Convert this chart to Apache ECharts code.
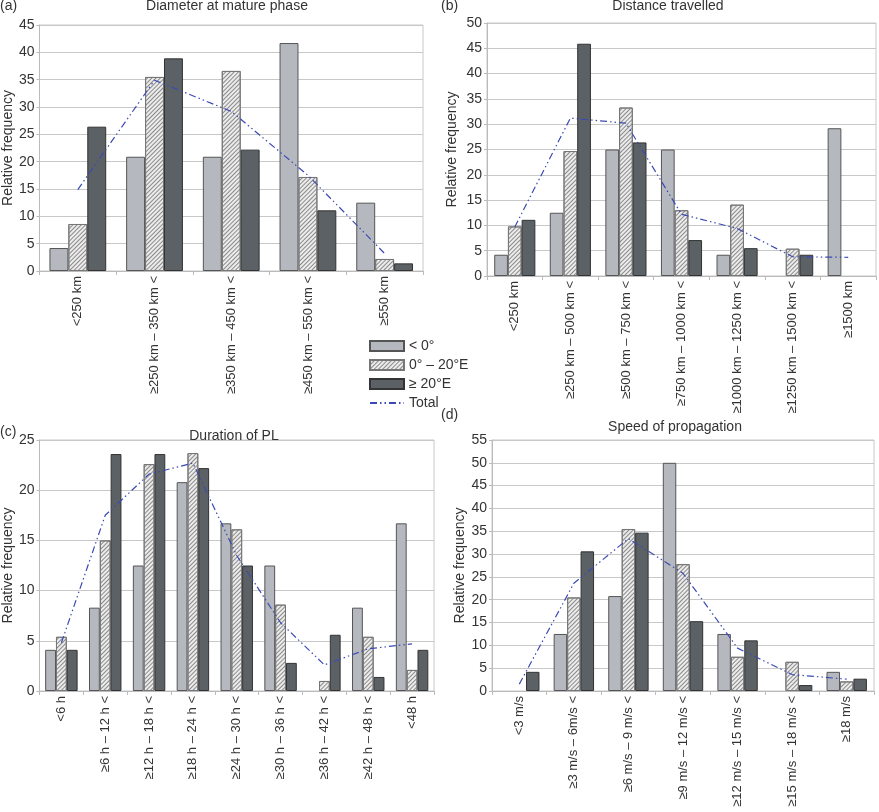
<!DOCTYPE html>
<html>
<head>
<meta charset="utf-8">
<script src="https://cdn.jsdelivr.net/npm/echarts@6/dist/echarts.min.js"></script>
<style>
  html, body { margin: 0; padding: 0; background: #fff; }
  #container { width: 879px; height: 812px; }
</style>
</head>
<body>
<div id="container"></div>
<script>
// (a) Diameter at mature phase
var catsA = ['<250 km', '≥250 km – 350 km <', '≥350 km – 450 km <', '≥450 km – 550 km <', '≥550 km'];
var westA = [4.2, 20.9, 20.9, 41.7, 12.5];
var midA = [8.6, 35.5, 36.6, 17.2, 2.2];
var eastA = [26.4, 38.9, 22.2, 11.1, 1.4];
var totalA = [14.9, 34.9, 29.2, 17.5, 3.2];

// (b) Distance travelled
var catsB = ['<250 km', '≥250 km – 500 km <', '≥500 km – 750 km <', '≥750 km – 1000 km <', '≥1000 km – 1250 km <', '≥1250 km – 1500 km <', '≥1500 km'];
var westB = [4.2, 12.5, 25.0, 25.0, 4.2, null, 29.2];
var midB = [9.8, 24.7, 33.3, 13.0, 14.1, 5.4, null];
var eastB = [11.1, 45.9, 26.4, 7.1, 5.5, 4.2, null];
var totalB = [9.7, 31.2, 30.2, 12.2, 9.4, 3.8, 3.7];

// (c) Duration of PL
var catsC = ['<6 h', '≥6 h – 12 h <', '≥12 h – 18 h <', '≥18 h – 24 h <', '≥24 h – 30 h <', '≥30 h – 36 h <', '≥36 h – 42 h <', '≥42 h – 48 h <', '<48 h'];
var westC = [4.1, 8.3, 12.5, 20.8, 16.7, 12.5, null, 8.3, 16.7];
var midC = [5.4, 15.0, 22.6, 23.7, 16.1, 8.6, 1.0, 5.4, 2.1];
var eastC = [4.1, 23.6, 23.6, 22.2, 12.5, 2.8, 5.6, 1.4, 4.1];
var totalC = [4.8, 17.5, 21.6, 22.7, 13.5, 6.8, 2.6, 4.2, 4.7];

// (d) Speed of propagation
var catsD = ['<3 m/s', '≥3 m/s – 6m/s <', '≥6 m/s – 9 m/s <', '≥9 m/s – 12 m/s <', '≥12 m/s – 15 m/s <', '≥15 m/s – 18 m/s <', '≥18 m/s'];
var westD = [null, 12.5, 20.8, 50.0, 12.5, null, 4.2];
var midD = [null, 20.5, 35.5, 27.8, 7.5, 6.4, 2.1];
var eastD = [4.2, 30.6, 34.7, 15.3, 11.1, 1.3, 2.7];
var totalD = [1.5, 23.6, 33.4, 25.8, 9.4, 3.6, 2.6];

var yMax = [45, 50, 25, 55];
var names = ['< 0°', '0° – 20°E', '≥ 20°E', 'Total'];

var font = 'Liberation Sans, Arial, sans-serif';
var txt = '#333';

var styleWest = { color: '#b5b9bf', borderColor: '#555', borderWidth: 1 };
var styleMid = {
  color: '#ececec', borderColor: '#777', borderWidth: 1,
  decal: { symbol: 'rect', symbolSize: 1, dashArrayX: [[1, 0]], dashArrayY: [1, 2], rotation: -Math.PI / 4, color: '#8a8a8a' }
};
var styleEast = { color: '#5b6164', borderColor: '#333', borderWidth: 1 };

var grids = [
  { left: 39, right: 456, top: 25, bottom: 541 },
  { left: 487, right: 3, top: 23, bottom: 536 },
  { left: 39, right: 445, top: 440, bottom: 121 },
  { left: 492, right: 5, top: 440, bottom: 121 }
];
var nameGaps = [21, 28, 21, 25];
var cats = [catsA, catsB, catsC, catsD];
var data = [
  [westA, midA, eastA, totalA],
  [westB, midB, eastB, totalB],
  [westC, midC, eastC, totalC],
  [westD, midD, eastD, totalD]
];

var option = {
  animation: false,
  textStyle: { fontFamily: font },
  title: [
    { text: 'Diameter at mature phase', left: 227, top: -1, textAlign: 'center' },
    { text: 'Distance travelled', left: 668, top: -1, textAlign: 'center' },
    { text: 'Duration of PL', left: 234, top: 429, textAlign: 'center' },
    { text: 'Speed of propagation', left: 675, top: 420, textAlign: 'center' },
    { text: '(a)', left: 0, top: -1 },
    { text: '(b)', left: 441, top: -1 },
    { text: '(c)', left: 0, top: 425 },
    { text: '(d)', left: 441, top: 408 }
  ].map(function (t) {
    t.padding = 0;
    t.textStyle = { fontFamily: font, fontSize: 14, fontWeight: 'normal', color: txt };
    return t;
  }),
  legend: {
    data: [
      { name: names[0], icon: 'rect' },
      { name: names[1], icon: 'rect' },
      { name: names[2], icon: 'rect' },
      { name: names[3], itemStyle: { opacity: 0 } }
    ],
    orient: 'vertical',
    left: 364,
    top: 334,
    itemWidth: 34,
    itemHeight: 10,
    itemGap: 5,
    textStyle: { fontFamily: font, fontSize: 14, color: txt }
  },
  grid: grids.map(function (g) {
    return Object.assign({ show: true, borderColor: '#c8c8c8', borderWidth: 1 }, g);
  }),
  xAxis: cats.map(function (c, i) {
    return {
      type: 'category', gridIndex: i, data: c,
      axisLine: { lineStyle: { color: '#bbb' } },
      axisTick: { show: true, length: 4, lineStyle: { color: '#bbb' } },
      axisLabel: { interval: 0, rotate: 90, margin: 5, fontSize: 13, color: txt, fontFamily: font }
    };
  }),
  yAxis: yMax.map(function (m, i) {
    return {
      type: 'value', gridIndex: i, min: 0, max: m, interval: 5,
      name: 'Relative frequency', nameLocation: 'middle', nameGap: nameGaps[i],
      nameTextStyle: { fontSize: 14, color: txt, fontFamily: font },
      axisLine: { show: true, lineStyle: { color: '#bbb' } },
      axisTick: { show: true, length: 3, lineStyle: { color: '#bbb' } },
      axisLabel: { fontSize: 14, color: txt, margin: 5, fontFamily: font },
      splitLine: { lineStyle: { color: '#c8c8c8' } }
    };
  }),
  series: []
};

data.forEach(function (d, i) {
  var styles = [styleWest, styleMid, styleEast];
  for (var k = 0; k < 3; k++) {
    option.series.push({
      name: names[k], type: 'bar', xAxisIndex: i, yAxisIndex: i,
      data: d[k], barGap: '0%', barCategoryGap: '26%',
      itemStyle: styles[k]
    });
  }
  option.series.push({
    name: names[3], type: 'line', xAxisIndex: i, yAxisIndex: i,
    data: d[3], symbol: 'none', z: 5,
    itemStyle: { color: '#3b4bb3' },
    lineStyle: { color: '#3b4bb3', width: 1.2, type: [7, 3, 1.5, 3, 1.5, 3] }
  });
});

var chart = echarts.init(document.getElementById('container'));
chart.setOption(option);
</script>
</body>
</html>
